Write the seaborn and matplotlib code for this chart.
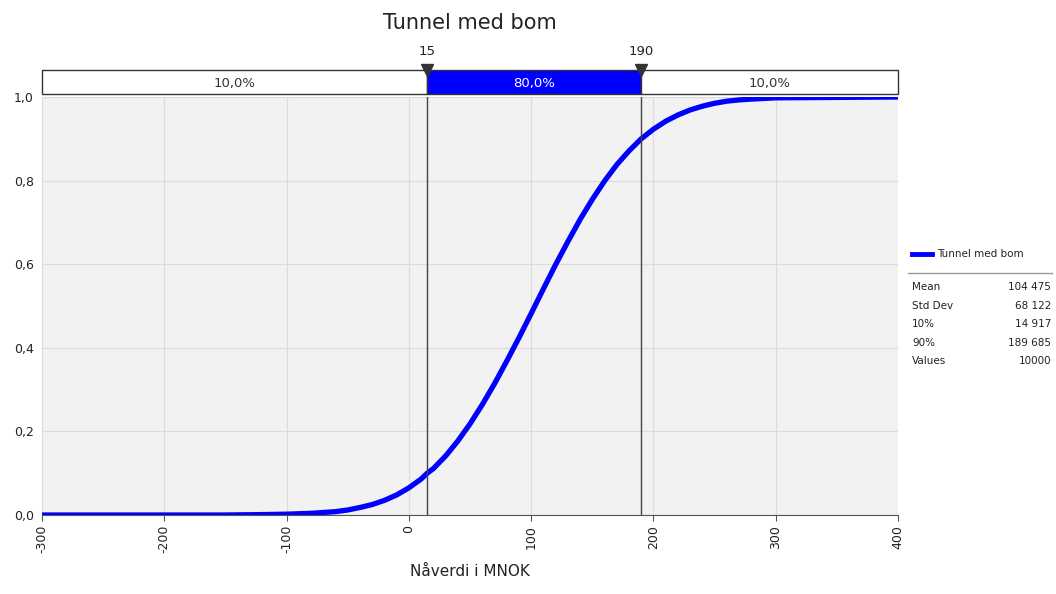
import matplotlib
matplotlib.use("Agg")
import matplotlib.pyplot as plt
import matplotlib.patches as mpatches
import pandas as pd
import seaborn as sns

# cumulative curve (value in MNOK, cumulative probability)
npv = [-300, -150, -120, -100, -90, -80, -70, -60, -50, -40, -30, -20, -10, 0,
       10, 15, 20, 30, 40, 50, 60, 70, 80, 90, 100, 110, 120, 130, 140, 150,
       160, 170, 180, 190, 200, 210, 220, 230, 240, 250, 260, 270, 280, 300, 400]
cum_prob = [0.000, 0.000, 0.001, 0.002, 0.003, 0.004, 0.006, 0.008, 0.012, 0.018,
            0.025, 0.035, 0.048, 0.065, 0.086, 0.100, 0.111, 0.141, 0.177, 0.218,
            0.264, 0.314, 0.368, 0.424, 0.482, 0.541, 0.599, 0.654, 0.707, 0.755,
            0.799, 0.838, 0.871, 0.900, 0.923, 0.942, 0.957, 0.969, 0.978, 0.985,
            0.990, 0.993, 0.995, 0.998, 1.000]

series_name = "Tunnel med bom"
markers = [15, 190]
band_labels = ["10,0%", "80,0%", "10,0%"]
stat_names = ["Mean", "Std Dev", "10%", "90%", "Values"]
stat_values = ["104 475", "68 122", "14 917", "189 685", "10000"]
x_ticks = [-300, -200, -100, 0, 100, 200, 300, 400]
y_ticks = [0.0, 0.2, 0.4, 0.6, 0.8, 1.0]

df = pd.DataFrame({"npv": npv, "cum": cum_prob})

plt.rcParams["font.family"] = ["DejaVu Sans"]
fig = plt.figure(figsize=(10.56, 5.94), dpi=100)
ax = fig.add_axes([0.0398, 0.133, 0.8106, 0.7037])
bar_ax = fig.add_axes([0.0398, 0.8418, 0.8106, 0.0404])

# main cumulative curve
ax.set_facecolor("#f2f2f2")
sns.lineplot(data=df, x="npv", y="cum", ax=ax, color="#0000ff", linewidth=3.8,
             label=series_name, legend=False)
ax.set_xlim(-300, 400)
ax.set_ylim(0, 1.0)
ax.set_xticks(x_ticks)
ax.set_xticklabels([str(t) for t in x_ticks], rotation=90, fontsize=9, color="#222222")
ax.set_yticks(y_ticks)
ax.set_yticklabels([f"{t:.1f}".replace(".", ",") for t in y_ticks], fontsize=9,
                   color="#222222")
ax.grid(True, color="#dcdcdc", linewidth=0.9)
ax.set_axisbelow(True)
for side in ["top", "right", "left"]:
    ax.spines[side].set_visible(False)
ax.spines["bottom"].set_color("#555555")
ax.tick_params(axis="x", length=4, color="#555555", pad=3)
ax.tick_params(axis="y", length=0, pad=6)
ax.set_xlabel("Nåverdi i MNOK", fontsize=11, color="#222222", labelpad=8)
ax.set_ylabel("")
for m in markers:
    ax.axvline(m, color="#444444", linewidth=1)

# percentile band above the plot
edges = [-300] + markers + [400]
fills = ["white", "#0000ff", "white"]
text_colors = ["#333333", "white", "#333333"]
bar_ax.set_xlim(-300, 400)
bar_ax.set_ylim(0, 1)
for i in range(3):
    bar_ax.add_patch(mpatches.Rectangle((edges[i], 0), edges[i + 1] - edges[i], 1,
                                        facecolor=fills[i], edgecolor="#333333",
                                        linewidth=1, clip_on=False))
    bar_ax.text((edges[i] + edges[i + 1]) / 2, 0.45, band_labels[i], ha="center",
                va="center", fontsize=9.5, color=text_colors[i])
bar_ax.axis("off")
for m in markers:
    bar_ax.plot([m], [1.0], marker="v", markersize=9, color="#333333", clip_on=False)
    bar_ax.text(m, 1.75, str(m), ha="center", va="center", fontsize=9.5, color="#222222")

fig.text(0.4445, 0.962, series_name, ha="center", va="center", fontsize=15,
         color="#222222")

# legend and statistics on the right
fig.add_artist(plt.Line2D([912 / 1056, 932 / 1056], [1 - 254 / 594] * 2,
                          color="#0000ff", linewidth=3.5))
fig.text(937 / 1056, 1 - 254 / 594, series_name, ha="left", va="center", fontsize=7.5,
         color="#222222")
fig.add_artist(plt.Line2D([908 / 1056, 1052 / 1056], [1 - 273 / 594] * 2,
                          color="#999999", linewidth=1))
for i, (name, val) in enumerate(zip(stat_names, stat_values)):
    yy = 1 - (287 + i * 18.6) / 594
    fig.text(912 / 1056, yy, name, ha="left", va="center", fontsize=7.5, color="#222222")
    fig.text(1051 / 1056, yy, val, ha="right", va="center", fontsize=7.5, color="#222222")

fig.savefig("out.png", dpi=100)
